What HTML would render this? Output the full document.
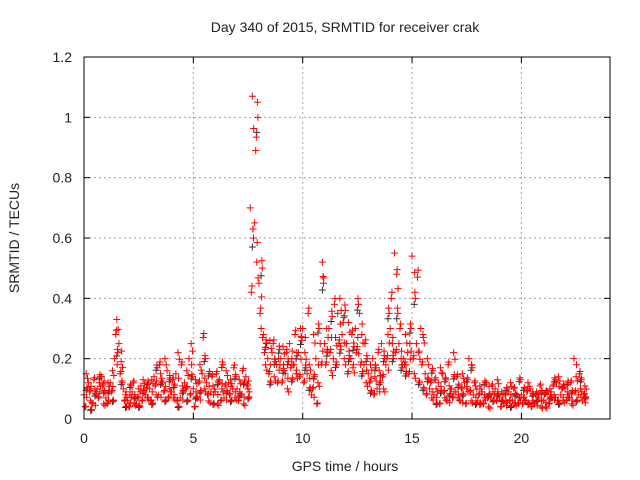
<!DOCTYPE html>
<html><head><meta charset="utf-8"><style>
body{margin:0;background:#fff}
svg{display:block;font-family:"Liberation Sans",sans-serif}
</style></head><body>
<svg id="chart" width="640" height="480" viewBox="0 0 640 480">
<rect width="640" height="480" fill="#fff"/>
<g id="grid"></g><g id="pts"></g><g id="axes"></g>
</svg>
<script>
const xTicks=[0,5,10,15,20];
const yTicks=[0,0.2,0.4,0.6,0.8,1,1.2];
const yTickLabels=["0","0.2","0.4","0.6","0.8","1","1.2"];
const timeStep=0.2;
const s1=[.08,.12,.05,.10,.14, .07,.12,.20,.25,.10, .06,.09,.05,.11,.08, .10,.14,.08,.12,.16, .09,.15,.07,.12,.20, .10,.07,.15,.12,.09, .09,.13,.07,.12,.10, .10,.08,.14,.70,.65, .45,.28,.20,.22,.18, .20,.15,.25,.18,.22, .30,.15,.08,.20,.25, .25,.30,.20,.35,.28, .25,.20,.30,.35,.18, .15,.20,.10,.25,.18, .30,.55,.25,.20,.22, .54,.25,.30,.15,.10, .08,.12,.15,.06,.10, .09,.06,.12,.20,.08, .06,.09,.12,.07,.10, .07,.05,.09,.06,.08, .08,.06,.10,.05,.07, .06,.09,.07,.12,.08, .10,.07,.20,.08,.06];
const s2=[.04,.09,.13,.07,.11, .05,.09,.28,.15,.06, .04,.12,.07,.06,.10, .06,.11,.18,.09,.07, .13,.06,.18,.10,.08, .04,.12,.27,.08,.14, .15,.06,.11,.08,.17, .06,.16,.11,.42,.89, .35,.22,.15,.25,.12, .12,.22,.17,.28,.14, .12,.35,.10,.05,.18, .18,.22,.38,.25,.32, .15,.28,.22,.18,.25, .12,.08,.22,.14,.20, .40,.22,.30,.18,.15, .20,.47,.18,.08,.12, .13,.05,.09,.18,.07, .14,.10,.05,.09,.12, .08,.05,.07,.11,.06, .04,.08,.06,.10,.05, .05,.09,.04,.08,.11, .08,.05,.11,.06,.10, .06,.12,.09,.15,.08];
const s3=[.15,.06,.10,.12,.05, .12,.16,.33,.19,.08, .08,.05,.10,.13,.07, .13,.08,.15,.20,.10, .07,.22,.11,.16,.25, .13,.18,.10,.06,.11, .05,.10,.16,.13,.07, .13,.05,.10,1.07,.52, .30,.18,.26,.14,.20, .24,.10,.20,.15,.30, .22,.18,.28,.12,.52, .30,.16,.27,.40,.20, .32,.17,.24,.28,.12, .18,.14,.16,.10,.28, .25,.48,.20,.28,.25, .15,.22,.28,.20,.07, .10,.17,.07,.11,.22, .07,.15,.10,.06,.11, .11,.07,.04,.09,.13, .09,.06,.12,.05,.07, .07,.12,.06,.09,.04, .04,.10,.08,.14,.06, .08,.05,.14,.10,.11];
const s4=[.10,.03,.08,.14,.09, .09,.06,.22,.12,.04, .11,.07,.04,.09,.12, .05,.17,.12,.06,.13, .11,.04,.09,.06,.14, .07,.09,.20,.15,.05, .12,.18,.09,.06,.14, .08,.12,.07,.60,1.00, .50,.25,.12,.19,.23, .16,.19,.13,.21,.26, .17,.10,.14,.30,.45, .22,.34,.18,.23,.36, .20,.24,.38,.15,.20, .09,.17,.12,.20,.35, .20,.35,.17,.15,.30, .40,.12,.10,.13,.16, .05,.09,.13,.08,.14, .11,.08,.13,.17,.05, .05,.12,.08,.06,.08, .06,.10,.04,.08,.13, .10,.05,.08,.06,.09, .09,.07,.13,.05,.11, .12,.09,.06,.13,.07];
const L=84,R=610,T=57,B=419;
const X=v=>L+v*21.87;
const Y=v=>B-v*(B-T)/1.2;
const NS="http://www.w3.org/2000/svg";
function mk(tag,at,parent){const e=document.createElementNS(NS,tag);for(const k in at)e.setAttribute(k,at[k]);parent.appendChild(e);return e;}
const grid=document.getElementById('grid'),pts=document.getElementById('pts'),axes=document.getElementById('axes');
xTicks.forEach(t=>{
 if(t>0){const g=mk('line',{x1:X(t),x2:X(t),y1:T,y2:B,stroke:'#a0a0a0','stroke-dasharray':'2,3'},grid);
 
 }
 const tl=mk('text',{x:X(t),y:B+24,'text-anchor':'middle','font-size':14,fill:'#222'},axes);tl.textContent=t;
 
 
 mk('line',{x1:X(t),x2:X(t),y1:B,y2:B-6,stroke:'#000'},axes);
 mk('line',{x1:X(t),x2:X(t),y1:T,y2:T+6,stroke:'#000'},axes);
});
yTicks.forEach((t,i)=>{
 if(t>0&&t<1.2){const g=mk('line',{x1:L,x2:R,y1:Y(t),y2:Y(t),stroke:'#a0a0a0','stroke-dasharray':'2,3'},grid);
 
 }
 const tl=mk('text',{x:L-12,y:Y(t)+5,'text-anchor':'end','font-size':14,fill:'#222'},axes);tl.textContent=yTickLabels[i];
 
 
 mk('line',{x1:L,x2:L+6,y1:Y(t),y2:Y(t),stroke:'#000'},axes);
 mk('line',{x1:R,x2:R-6,y1:Y(t),y2:Y(t),stroke:'#000'},axes);
});
function plus(t,v,col){
 const x=X(t),y=Y(v);
 const p=mk('path',{d:`M${x-3.5} ${y}H${x+3.5}M${x} ${y-3.5}V${y+3.5}`,stroke:col,'stroke-width':1,fill:'none'},pts);
 
 
}
s4.forEach((v,i)=>plus(i*timeStep+0.1,v*0.95,'#333'));
[s1,s2,s3,s4].forEach((s,k)=>s.forEach((v,i)=>plus(i*timeStep+k*0.05,v,'#ff0000')));
[s1,s3].forEach((s,k)=>s.forEach((v,i)=>plus(i*timeStep+0.12+k*0.04,v*0.9,'#ff0000')));
[s2,s4].forEach((s,k)=>s.forEach((v,i)=>plus(i*timeStep+0.08+k*0.05,v*1.05,'#ff0000')));
const fr=mk('rect',{x:L,y:T,width:R-L,height:B-T,fill:'none',stroke:'#000'},axes);


let tx=mk('text',{x:345,y:32,'text-anchor':'middle','font-size':14,fill:'#222'},axes);tx.textContent='Day 340 of 2015, SRMTID for receiver crak';


tx=mk('text',{x:345,y:471,'text-anchor':'middle','font-size':14,fill:'#222'},axes);tx.textContent='GPS time / hours';


tx=mk('text',{x:0,y:0,'text-anchor':'middle','font-size':14,fill:'#222',transform:'translate(19,238) rotate(-90)'},axes);tx.textContent='SRMTID / TECUs';


</script>
</body></html>
